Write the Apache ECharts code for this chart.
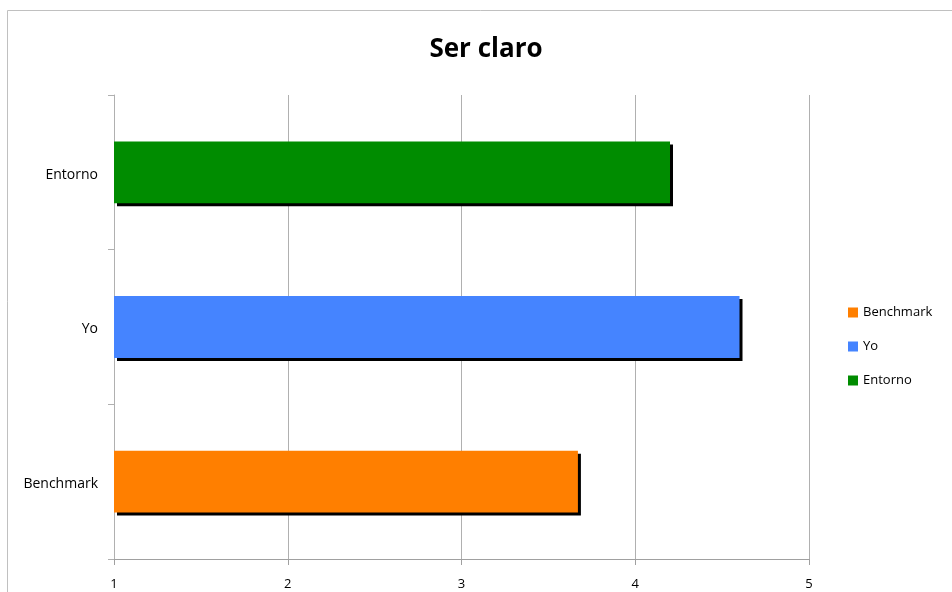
<!DOCTYPE html>
<html>
<head>
<meta charset="utf-8">
<script src="https://cdn.jsdelivr.net/npm/echarts@6/dist/echarts.min.js"></script>
<style>
  html, body { margin: 0; padding: 0; background: #fff; }
  #chart { width: 952px; height: 592px; }
</style>
</head>
<body>
<div id="chart"></div>
<script>
// datos
const categories = ["Benchmark", "Yo", "Entorno"];
const seriesNames = ["Benchmark", "Yo", "Entorno"];
const benchmarkValues = [3.67, "-", "-"];
const yoValues = ["-", 4.6, "-"];
const entornoValues = ["-", "-", 4.2];
const colors = ["#FF7F00", "#4584FF", "#008C00"];
const xTicks = [1, 2, 3, 4, 5];

const chart = echarts.init(document.getElementById("chart"));
const font = "'Open Sans', 'Liberation Sans', sans-serif";

function makeSeries(name, data, color) {
  return {
    name: name,
    type: "bar",
    stack: "all",
    barWidth: "40%",
    data: data,
    itemStyle: {
      color: color,
      shadowColor: "#000",
      shadowOffsetX: 3,
      shadowOffsetY: 3,
      shadowBlur: 0
    }
  };
}

const option = {
  backgroundColor: "#fff",
  animation: false,
  title: {
    text: "Ser claro",
    left: 481,
    textAlign: "center",
    top: 32,
    textStyle: { fontFamily: font, fontSize: 26, fontWeight: "bold", color: "#000" }
  },
  legend: {
    orient: "vertical",
    left: 843,
    top: 301,
    itemGap: 21,
    itemWidth: 10,
    itemHeight: 10,
    icon: "rect",
    data: seriesNames,
    textStyle: { fontFamily: font, fontSize: 13, color: "#000" }
  },
  graphic: [{
    type: "rect",
    shape: { x: 7.5, y: 10.5, width: 960, height: 600 },
    style: { fill: null, stroke: "#c0c0c0", lineWidth: 1 },
    silent: true
  }],
  grid: { left: 114, right: 143, top: 95, bottom: 33, containLabel: false },
  xAxis: {
    type: "value",
    min: xTicks[0],
    max: xTicks[xTicks.length - 1],
    interval: 1,
    axisLine: { show: true, lineStyle: { color: "#a0a0a0" } },
    axisTick: { show: true, length: 6, lineStyle: { color: "#a0a0a0" } },
    splitLine: { show: true, lineStyle: { color: "#b0b0b0" } },
    axisLabel: { fontFamily: font, fontSize: 13, color: "#000", margin: 19 }
  },
  yAxis: {
    type: "category",
    data: categories,
    axisLine: { show: true, lineStyle: { color: "#b0b0b0" } },
    axisTick: { show: true, length: 6, lineStyle: { color: "#b0b0b0" } },
    axisLabel: {
      margin: 16,
      formatter: "{a|{value}}",
      rich: { a: { fontFamily: font, fontSize: 14, color: "#000", padding: [5, 0, 0, 0] } }
    }
  },
  series: [
    makeSeries(seriesNames[0], benchmarkValues, colors[0]),
    makeSeries(seriesNames[1], yoValues, colors[1]),
    makeSeries(seriesNames[2], entornoValues, colors[2])
  ]
};

chart.setOption(option);
</script>
</body>
</html>
